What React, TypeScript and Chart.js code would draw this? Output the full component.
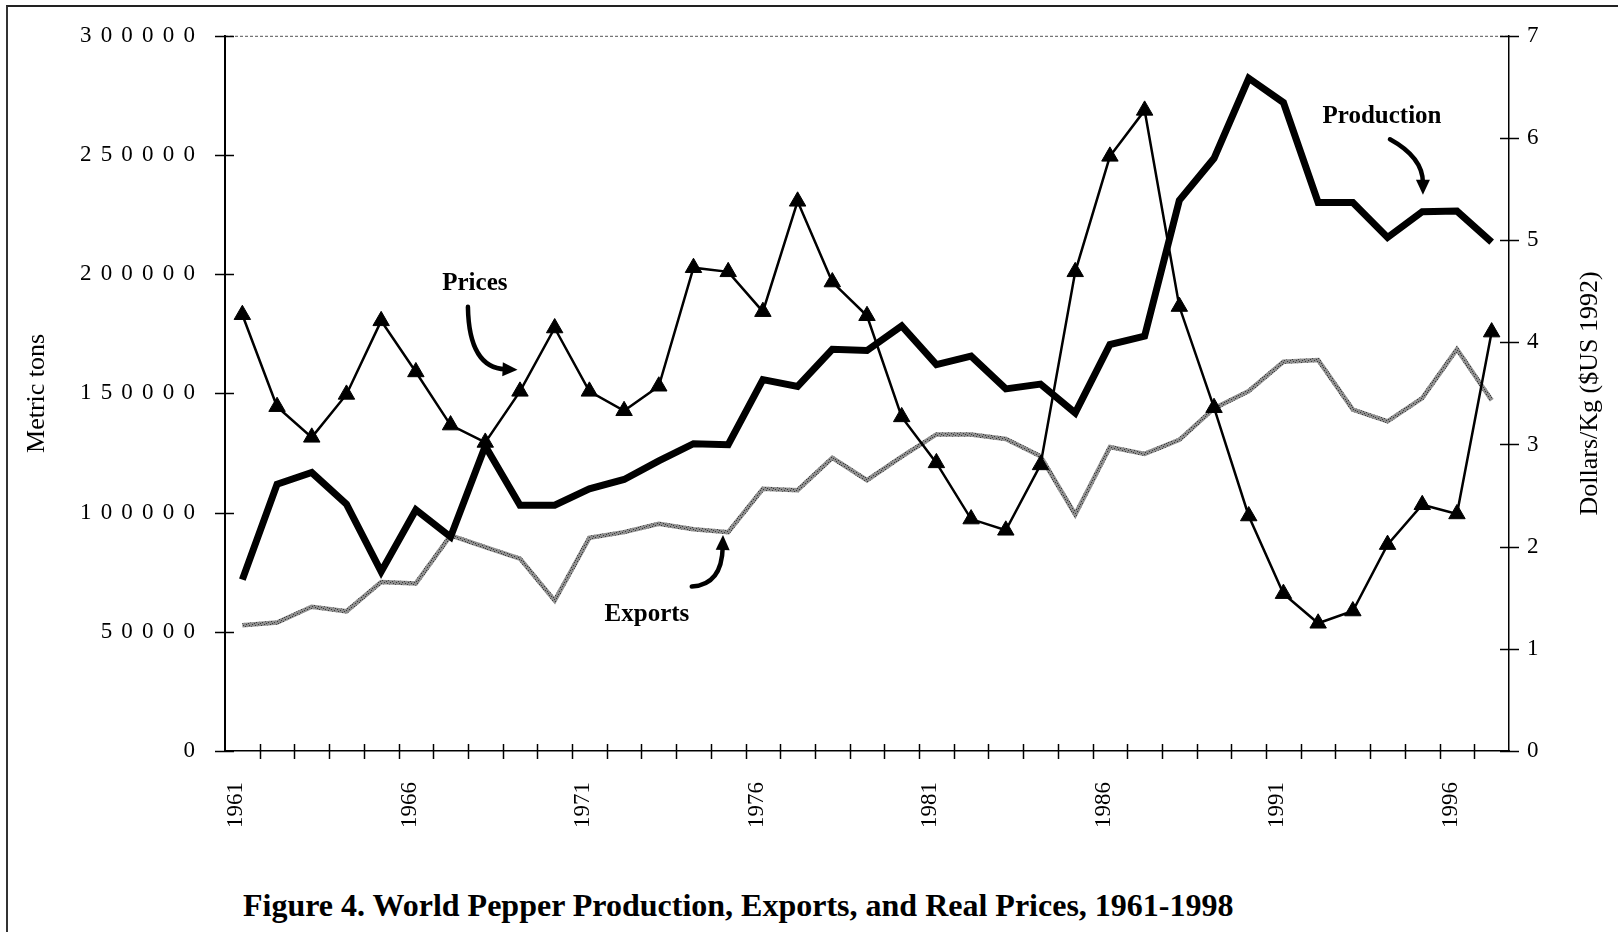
import React, { useEffect, useRef } from 'react';
import { Chart, registerables } from 'chart.js';

Chart.register(...registerables);

// ---- data ----
const years = [
  '1961', '1962', '1963', '1964', '1965', '1966', '1967', '1968', '1969', '1970',
  '1971', '1972', '1973', '1974', '1975', '1976', '1977', '1978', '1979', '1980',
  '1981', '1982', '1983', '1984', '1985', '1986', '1987', '1988', '1989', '1990',
  '1991', '1992', '1993', '1994', '1995', '1996', '1997',
];

// metric tons
const production = [
  71900, 111900, 116800, 103500, 75200, 101200, 89800, 127900, 103100, 103100,
  110000, 113900, 121700, 128900, 128500, 155800, 152900, 168500, 168000, 178300,
  162100, 165600, 151900, 153900, 141800, 170500, 174000, 231000, 248600, 282200,
  272000, 230100, 230100, 215400, 226200, 226500, 213500,
];

// metric tons
const exportsTons = [
  52700, 53900, 60500, 58600, 70900, 70300, 90400, 85500, 80700, 63100,
  89400, 91800, 95300, 93000, 91800, 110000, 109400, 123000, 113600, 123500,
  132800, 132800, 130900, 123600, 99200, 127500, 124600, 130500, 143700, 151000,
  163300, 164000, 143200, 138300, 148000, 168500, 147100,
];

// dollars / kg ($US 1992)
const prices = [
  4.27, 3.37, 3.07, 3.49, 4.21, 3.71, 3.19, 3.02, 3.52, 4.14,
  3.52, 3.33, 3.57, 4.73, 4.69, 4.30, 5.38, 4.59, 4.26, 3.27,
  2.82, 2.27, 2.16, 2.80, 4.69, 5.82, 6.27, 4.35, 3.36, 2.30,
  1.54, 1.25, 1.37, 2.02, 2.41, 2.32, 4.10,
];

const leftTicks = [0, 50000, 100000, 150000, 200000, 250000, 300000];
const rightTicks = [0, 1, 2, 3, 4, 5, 6, 7];
const labelEvery = 5;

// annotation labels and curved arrows, in (category index, metric tons)
const noteText = ['Prices', 'Exports', 'Production'];
const noteX = [6.7, 11.66, 32.84];
const noteY = [196000, 57300, 266000];
const arrowStartX = [6.5, 12.95, 33.07];
const arrowStartY = [186300, 68980, 256600];
const arrowCtrlX = [6.53, 13.82, 34.02];
const arrowCtrlY = [160700, 69650, 249000];
const arrowEndX = [7.93, 13.85, 34.02];
const arrowEndY = [159900, 90600, 233300];

const SERIF = "'Liberation Serif', 'Times New Roman', serif";

function makeStipple(): CanvasPattern | string {
  const c = document.createElement('canvas');
  c.width = 6;
  c.height = 6;
  const g = c.getContext('2d');
  if (!g) return '#808080';
  g.fillStyle = '#8e8e8e';
  g.fillRect(0, 0, 6, 6);
  g.fillStyle = '#3a3a3a';
  const dots = [[0, 0], [3, 1], [1, 3], [4, 4], [5, 2], [2, 5]];
  dots.forEach(([a, b]) => g.fillRect(a, b, 1, 1));
  const p = g.createPattern(c, 'repeat');
  return p || '#808080';
}

const decorPlugin = {
  id: 'decor',
  afterDraw(chart: any) {
    const { ctx, chartArea: ca, scales } = chart;
    const xs = scales.x;
    const ys = scales.y;
    const y1 = scales.y1;
    ctx.save();

    // dotted top frame of the plot
    ctx.strokeStyle = '#555';
    ctx.lineWidth = 1;
    ctx.setLineDash([3, 2]);
    ctx.beginPath();
    ctx.moveTo(ca.left, ca.top + 0.5);
    ctx.lineTo(ca.right, ca.top + 0.5);
    ctx.stroke();
    ctx.setLineDash([]);

    // crossing tick marks on x axis (between categories)
    ctx.strokeStyle = '#000';
    ctx.lineWidth = 1.5;
    for (let i = 1; i < years.length; i++) {
      const px = Math.round(xs.getPixelForValue(i - 0.5)) + 0.5;
      ctx.beginPath();
      ctx.moveTo(px, ca.bottom - 7);
      ctx.lineTo(px, ca.bottom + 8);
      ctx.stroke();
    }
    // crossing tick marks on y axes
    leftTicks.forEach((v) => {
      const py = Math.round(ys.getPixelForValue(v)) + 0.5;
      ctx.beginPath();
      ctx.moveTo(ca.left - 10, py);
      ctx.lineTo(ca.left + 9, py);
      ctx.stroke();
    });
    rightTicks.forEach((v) => {
      const py = Math.round(y1.getPixelForValue(v)) + 0.5;
      ctx.beginPath();
      ctx.moveTo(ca.right - 9, py);
      ctx.lineTo(ca.right + 10, py);
      ctx.stroke();
    });

    // annotations
    ctx.fillStyle = '#000';
    ctx.font = `bold 25px ${SERIF}`;
    ctx.textAlign = 'center';
    ctx.textBaseline = 'middle';
    noteText.forEach((t, i) => {
      ctx.fillText(t, xs.getPixelForValue(noteX[i]), ys.getPixelForValue(noteY[i]));
      const sx = xs.getPixelForValue(arrowStartX[i]);
      const sy = ys.getPixelForValue(arrowStartY[i]);
      const cx = xs.getPixelForValue(arrowCtrlX[i]);
      const cy = ys.getPixelForValue(arrowCtrlY[i]);
      const ex = xs.getPixelForValue(arrowEndX[i]);
      const ey = ys.getPixelForValue(arrowEndY[i]);
      const ang = Math.atan2(ey - cy, ex - cx);
      const headLen = 15;
      const bx = ex - Math.cos(ang) * headLen * 0.8;
      const by = ey - Math.sin(ang) * headLen * 0.8;
      ctx.lineWidth = 4.5;
      ctx.lineCap = 'round';
      ctx.beginPath();
      ctx.moveTo(sx, sy);
      ctx.quadraticCurveTo(cx, cy, bx, by);
      ctx.stroke();
      ctx.beginPath();
      ctx.moveTo(ex, ey);
      ctx.lineTo(ex - Math.cos(ang) * headLen + Math.sin(ang) * 7, ey - Math.sin(ang) * headLen - Math.cos(ang) * 7);
      ctx.lineTo(ex - Math.cos(ang) * headLen - Math.sin(ang) * 7, ey - Math.sin(ang) * headLen + Math.cos(ang) * 7);
      ctx.closePath();
      ctx.fill();
    });

    // right axis title, reading bottom to top
    ctx.font = `26px ${SERIF}`;
    ctx.translate(y1.left + 81, (ca.top + ca.bottom) / 2);
    ctx.rotate(-Math.PI / 2);
    ctx.textAlign = 'center';
    ctx.textBaseline = 'middle';
    ctx.fillText('Dollars/Kg ($US 1992)', 0, 0);
    ctx.restore();
  },
};

const CANVAS_W = 1618;
const CANVAS_H = 860;

export default function App() {
  const ref = useRef<HTMLCanvasElement | null>(null);

  useEffect(() => {
    const canvas = ref.current;
    if (!canvas) return;
    const chart = new Chart(canvas, {
      type: 'line',
      data: {
        labels: years,
        datasets: [
          {
            label: 'Prices',
            data: prices,
            yAxisID: 'y1',
            borderColor: '#000',
            borderWidth: 2.5,
            pointStyle: 'triangle',
            pointRadius: 9.5,
            pointBackgroundColor: '#000',
            pointBorderColor: '#000',
            pointBorderWidth: 1,
            tension: 0,
          },
          {
            label: 'Production',
            data: production,
            yAxisID: 'y',
            borderColor: '#000',
            borderWidth: 7,
            pointRadius: 0,
            borderJoinStyle: 'miter',
            tension: 0,
          },
          {
            label: 'Exports',
            data: exportsTons,
            yAxisID: 'y',
            borderColor: makeStipple() as any,
            borderWidth: 4.5,
            pointRadius: 0,
            tension: 0,
          },
        ],
      },
      options: {
        responsive: false,
        animation: false,
        events: [],
        layout: { padding: { top: 27, left: 0, right: 0, bottom: 0 } },
        plugins: {
          legend: { display: false },
          tooltip: { enabled: false },
          title: { display: false },
        },
        scales: {
          x: {
            type: 'category',
            offset: true,
            grid: { display: false, offset: true },
            border: { display: true, color: '#000', width: 1.5 },
            ticks: {
              autoSkip: false,
              maxRotation: 90,
              minRotation: 90,
              padding: 23,
              labelOffset: -6,
              color: '#000',
              font: { family: SERIF, size: 23 },
              callback: (_v: any, i: number) =>
                i % labelEvery === 0 ? years[i] : '',
            },
            afterFit: (s: any) => {
              s.height = CANVAS_H - 751;
            },
          },
          y: {
            type: 'linear',
            position: 'left',
            min: 0,
            max: 300000,
            grid: { display: false },
            border: { display: true, color: '#000', width: 2 },
            ticks: {
              stepSize: 50000,
              padding: 22,
              color: '#000',
              font: { family: SERIF, size: 23 },
              callback: (v: any) => String(v).split('').join('\u2009\u2009'),
            },
            title: {
              display: true,
              text: 'Metric tons',
              color: '#000',
              font: { family: SERIF, size: 26 },
              padding: { top: 22, bottom: 0 },
            },
            afterFit: (s: any) => {
              s.width = 225;
            },
          },
          y1: {
            type: 'linear',
            position: 'right',
            min: 0,
            max: 7,
            grid: { display: false },
            border: { display: true, color: '#000', width: 1.5 },
            ticks: {
              stepSize: 1,
              padding: 10,
              color: '#000',
              font: { family: SERIF, size: 23 },
            },
            afterFit: (s: any) => {
              s.width = CANVAS_W - 1509;
            },
          },
        },
      },
      plugins: [decorPlugin],
    });
    return () => chart.destroy();
  }, []);

  return (
    <div style={{ position: 'absolute', left: 0, top: 0, width: CANVAS_W, height: 932, background: '#fff', overflow: 'hidden' }}>
      <div
        style={{
          position: 'absolute',
          left: 6,
          top: 5,
          width: CANVAS_W - 6,
          height: 932 - 5,
          borderTop: '2px solid #222',
          borderLeft: '2px solid #333',
          boxSizing: 'border-box',
        }}
      />
      <canvas
        ref={ref}
        width={CANVAS_W}
        height={CANVAS_H}
        style={{ position: 'absolute', left: 0, top: 0, width: CANVAS_W, height: CANVAS_H }}
      />
      <div
        style={{
          position: 'absolute',
          left: 243,
          top: 889,
          fontFamily: SERIF,
          fontWeight: 'bold',
          fontSize: 32,
          lineHeight: 1,
          whiteSpace: 'nowrap',
          color: '#000',
        }}
      >
        Figure 4. World Pepper Production, Exports, and Real Prices, 1961-1998
      </div>
    </div>
  );
}
